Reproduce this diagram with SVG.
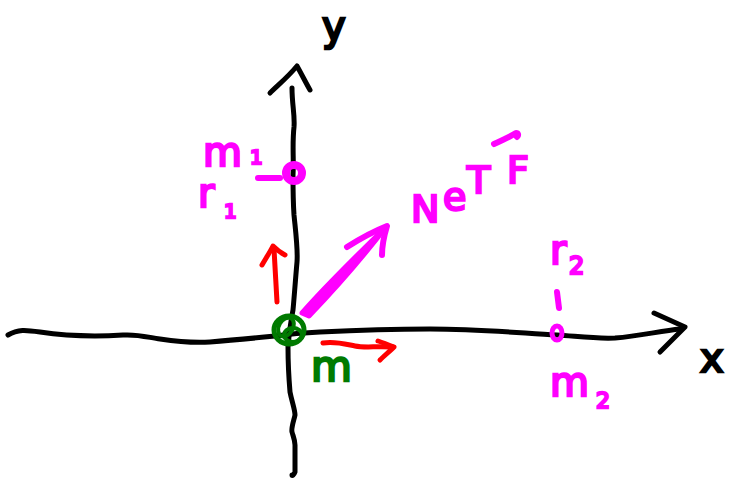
<svg xmlns="http://www.w3.org/2000/svg" width="729" height="482" viewBox="0 0 729 482">
<style>
.ink{fill:none;stroke-linecap:round;stroke-linejoin:round}
.blk{stroke:#000;stroke-width:5}
.mag{stroke:#ff00ff;stroke-width:6}
.red{stroke:#ff0000;stroke-width:5}
.grn{stroke:#007a00;stroke-width:5}
.tm{fill:#ff00ff;stroke:#ff00ff;stroke-width:2.5;font-family:"DejaVu Sans","Liberation Sans",sans-serif}
.tb{fill:#000;stroke:#000;stroke-width:2.5;font-family:"DejaVu Sans","Liberation Sans",sans-serif}
.tg{fill:#007a00;stroke:#007a00;stroke-width:2.5;font-family:"DejaVu Sans","Liberation Sans",sans-serif}
</style>
<rect width="729" height="482" fill="#fff"/>
<g id="axes">
  <path class="ink blk" d="M8,335 C18,329 26,330 40,332 C60,335 90,337 123,335 C140,334 150,338 160,339 C180,342 195,343 210,342 C235,340 255,338 275,336 C290,334 300,333 320,332 C360,330 400,329 430,329 C480,329 520,333 557,335 C575,336 595,339 615,338 C640,336 660,331 680,329"/>
  <path class="ink blk" d="M654,313 L685,327 L660,352"/>
  <path class="ink blk" d="M292,88 C292,105 295,115 294,127 C292,145 294,160 293,175 C293,190 293,200 294,215 C296,235 298,250 297,262 C295,285 294,300 293,310 C291,320 289,335 288,347 C288,365 289,380 290,392 C292,402 295,410 295,415 C294,420 291,428 292,432 C293,436 295,440 295,445 C295,455 295,465 295,472 C294,475 292,476 292,475"/>
  <path class="ink blk" d="M270,93 C278,85 287,78 297,66 C302,75 306,83 310,90"/>
  <text class="tb" x="700" y="372" font-size="40">x</text>
  <text class="tb" x="322" y="40" font-size="40">y</text>
</g>
<g id="m1">
  <circle cx="294" cy="173" r="8" fill="none" stroke="#ff00ff" stroke-width="8"/>
  <path class="ink mag" d="M258,178 L280,178"/>
  <text class="tm" x="203" y="166" font-size="40">m</text>
  <text class="tm" x="250" y="164" font-size="20">1</text>
  <text class="tm" x="198" y="207" font-size="40">r</text>
  <text class="tm" x="224" y="218" font-size="20">1</text>
</g>
<g id="m2">
  <ellipse cx="557" cy="333" rx="5" ry="7" fill="none" stroke="#ff00ff" stroke-width="5"/>
  <path class="ink mag" d="M557,292 L559,308"/>
  <text class="tm" x="550" y="264" font-size="40">r</text>
  <text class="tm" x="569" y="274" font-size="24">2</text>
  <text class="tm" x="550" y="396" font-size="40">m</text>
  <text class="tm" x="596" y="408" font-size="22">2</text>
</g>
<g id="origin">
  <ellipse cx="289" cy="330" rx="15" ry="14" fill="none" stroke="#007a00" stroke-width="5"/>
  <ellipse cx="286" cy="327" rx="7" ry="10" fill="none" stroke="#007a00" stroke-width="4" transform="rotate(30 286 327)"/>
  <ellipse cx="293" cy="335" rx="9" ry="7" fill="none" stroke="#007a00" stroke-width="4"/>
  <text class="tg" x="311" y="381" font-size="42">m</text>
</g>
<g id="connectors">
  <path d="M302,313 C322,290 350,262 386,227 C362,258 332,292 309,316 Z" fill="#ff00ff" stroke="#ff00ff" stroke-width="5" stroke-linejoin="round"/>
  <path class="ink mag" d="M347,247 C358,240 372,232 387,226 C384,236 382,246 382,255"/>
  <path class="ink red" d="M277,302 C276,285 275,265 274,249"/>
  <path class="ink red" d="M262,265 C266,258 270,252 273,246 C277,250 281,253 285,255"/>
  <path class="ink red" d="M323,343 C335,341 345,344 355,346 C365,348 375,346 393,347"/>
  <path class="ink red" d="M378,341 C384,343 389,345 394,347 C390,351 384,356 380,360"/>
</g>
<g id="netF">
  <text class="tm" font-size="38"><tspan x="411" y="222">N</tspan><tspan x="443" y="210">e</tspan><tspan x="467" y="193">T</tspan><tspan x="507" y="183">F</tspan></text>
  <path class="ink mag" d="M494,144 C502,140 510,137 516,133 C518,133 519,135 517,137" stroke-width="5"/>
</g>
</svg>
